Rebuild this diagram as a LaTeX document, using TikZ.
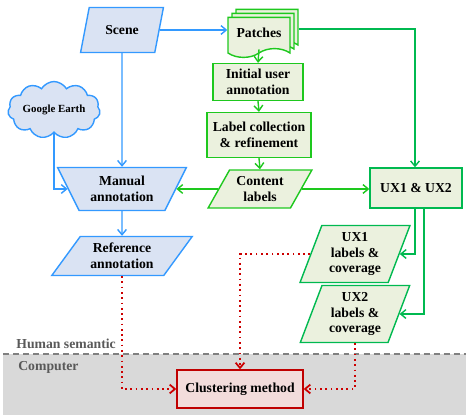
\documentclass[tikz,border=0pt]{standalone}
\usepackage{fontspec}
\setmainfont{Liberation Serif}
\usepackage{xcolor}
\usetikzlibrary{positioning, shapes.geometric, shapes.symbols, shadows, arrows.meta}

\definecolor{blueline}{RGB}{51,153,255}
\definecolor{bluefill}{RGB}{218,227,243}
\definecolor{gline}{RGB}{30,200,30}
\definecolor{tline}{RGB}{0,185,80}
\definecolor{gfill}{RGB}{235,241,222}
\definecolor{rline}{RGB}{204,0,0}
\definecolor{rbox}{RGB}{192,0,0}
\definecolor{rfill}{RGB}{242,220,219}
\definecolor{grayfill}{RGB}{217,217,217}
\definecolor{graydash}{RGB}{128,128,128}
\definecolor{graytext}{RGB}{89,89,89}

\tikzset{
  base/.style={font=\fontsize{7.8}{9}\selectfont\bfseries, align=center, line width=0.8pt, inner sep=1pt},
  bluebox/.style={base, draw=blueline, fill=bluefill},
  greenbox/.style={base, draw=gline, fill=gfill},
  uxbox/.style={base, draw=tline, fill=gfill},
  redbox/.style={base, draw=rbox, fill=rfill},
  tip/.style={-{Straight Barb[length=3pt,width=5pt]}},
  bluearrow/.style={draw=blueline, line width=0.8pt, tip},
  greenarrow/.style={draw=gline, line width=0.8pt, tip},
  uxarrow/.style={draw=tline, line width=0.8pt, tip},
  redarrow/.style={draw=rline, line width=1pt, dotted, tip},
  graylabel/.style={font=\fontsize{7.8}{9}\selectfont\bfseries, text=graytext, inner sep=0pt}
}

\begin{document}
\begin{tikzpicture}[x=0.02cm, y=-0.02cm]
      \useasboundingbox (0,0) rectangle (466,418);
      \fill[grayfill] (3,354) rectangle (466,415);
      \draw[graydash, line width=1pt, dash pattern=on 3.4pt off 2.3pt] (3,354) -- (466,354);
      \node[graylabel, anchor=west] (human) at (16,344) {Human semantic};
      \node[graylabel, anchor=west] (computer) at (18,367) {Computer};

      \node[bluebox, trapezium, trapezium stretches=true, trapezium left angle=69, trapezium right angle=111,
            minimum width=1.66cm, minimum height=0.9cm] (scene) at (122,30) {Scene};
      \node[greenbox, tape, tape bend top=none, minimum width=1.24cm, minimum height=0.8cm,
            double copy shadow={shadow xshift=0.08cm, shadow yshift=0.08cm, fill=gfill, draw=gline}] (patches) at (259,33) {Patches};
      \node[greenbox, rectangle, minimum width=1.8cm, minimum height=0.74cm] (init) at (258,82) {Initial user\\annotation};
      \node[greenbox, rectangle, minimum width=2.08cm, minimum height=0.9cm] (labcol) at (259,135) {Label collection\\\& refinement};
      \node[greenbox, trapezium, trapezium stretches=true, trapezium left angle=58, trapezium right angle=122,
            minimum width=2.08cm, minimum height=0.76cm] (content) at (260,189) {Content\\labels};
      \node[uxbox, rectangle, minimum width=1.84cm, minimum height=0.8cm] (ux) at (416,188) {UX1 \& UX2};
      \node[bluebox, trapezium, trapezium stretches=true, shape border rotate=180, trapezium left angle=60, trapezium right angle=60,
            minimum width=2.58cm, minimum height=0.86cm] (manual) at (122,189) {Manual\\annotation};
      \node[bluebox, cloud, cloud puffs=11, cloud puff arc=120, aspect=2, inner sep=0pt,
            font=\fontsize{6.2}{7}\selectfont\bfseries, minimum width=1.48cm, minimum height=0.8cm] (earth) at (54,110) {Google Earth};
      \node[bluebox, trapezium, trapezium stretches=true, trapezium left angle=52, trapezium right angle=128,
            minimum width=2.82cm, minimum height=0.78cm] (ref) at (122,256) {Reference\\annotation};
      \node[uxbox, trapezium, trapezium stretches=true, trapezium left angle=69, trapezium right angle=111,
            minimum width=2.2cm, minimum height=1.14cm] (ux1) at (355,254) {UX1\\labels \&\\coverage};
      \node[uxbox, trapezium, trapezium stretches=true, trapezium left angle=69, trapezium right angle=111,
            minimum width=2.2cm, minimum height=1.14cm] (ux2) at (355,314) {UX2\\labels \&\\coverage};
      \node[redbox, rectangle, minimum width=2.52cm, minimum height=0.76cm] (clus) at (240,389) {Clustering method};

      \draw[bluearrow] (scene.east) -- (scene.east -| patches.west);
      \draw[bluearrow] (scene.south) -- (manual.north);
      \draw[bluearrow] (earth.south) |- (manual.west);
      \draw[bluearrow] (manual.south) -- (ref.north);
      \draw[greenarrow] (patches.south) -- (init.north);
      \draw[greenarrow] (init.south) -- (labcol.north);
      \draw[greenarrow] (labcol.south) -- (content.north);
      \draw[greenarrow] (content.east) -- (content.east -| ux.west);
      \draw[greenarrow] (content.west) -- (content.west -| manual.east);
      \draw[uxarrow] ([xshift=0.16cm, yshift=0.08cm]patches.east) -| ([xshift=-0.02cm]ux.north);
      \draw[uxarrow] ([xshift=-0.02cm]ux.south) |- (ux1.east);
      \draw[uxarrow] ([xshift=0.16cm]ux.south) |- (ux2.east);
      \draw[redarrow] (ref.south) |- (clus.west);
      \draw[redarrow] (ux1.west) -| (clus.north);
      \draw[redarrow] (ux2.south) |- (clus.east);
    \end{tikzpicture}
\end{document}
